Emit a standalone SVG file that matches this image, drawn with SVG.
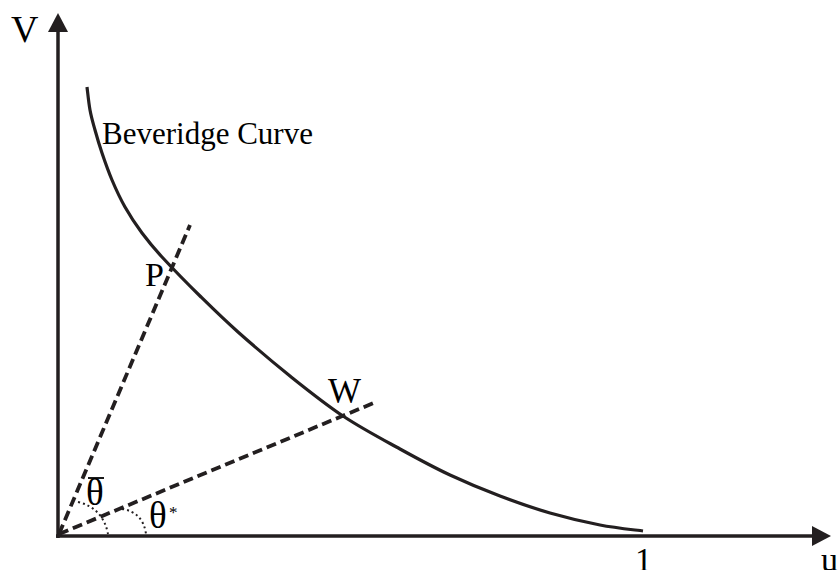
<svg xmlns="http://www.w3.org/2000/svg" width="838" height="570" viewBox="0 0 838 570">
<style>
.t{font-family:"Liberation Serif","Times New Roman",serif;fill:#000}
.ax{stroke:#231f20;stroke-width:3.5;fill:none}
.dash{stroke:#231f20;stroke-width:3.8;fill:none;stroke-dasharray:10 5}
.dot{stroke:#231f20;stroke-width:2;fill:none;stroke-dasharray:2 3}
</style>
<rect width="838" height="570" fill="#fff"/>
<g id="axes">
<line class="ax" x1="58" y1="538" x2="58" y2="28"/>
<polygon points="58,13 48,32 68,32" fill="#231f20"/>
<line class="ax" x1="56" y1="536" x2="815" y2="536"/>
<polygon points="831,536 812,526 812,546" fill="#231f20"/>
</g>
<g id="curve">
<path d="M87,87 C87.5,90.8 88.7,102.8 90,110 C91.3,117.2 93,122.8 95,130 C97,137.2 99.2,144.7 102,153 C104.8,161.3 108.2,171 112,180 C115.8,189 120,198.2 125,207 C130,215.8 135.8,224.7 142,233 C148.2,241.3 152.3,246.5 162,257 C171.7,267.5 187.3,283.5 200,296 C212.7,308.5 223,318.7 238,332 C253,345.3 272.5,362 290,376 C307.5,390 324.7,403.8 343,416 C361.3,428.2 382.2,439.2 400,449 C417.8,458.8 433.3,467.2 450,475 C466.7,482.8 483.3,489.7 500,496 C516.7,502.3 533.3,508.2 550,513 C566.7,517.8 584.5,522 600,525 C615.5,528 635.8,530 643,531" stroke="#231f20" stroke-width="3.2" fill="none"/>
</g>
<g id="connectors">
<line class="dash" x1="59" y1="534" x2="190" y2="225"/>
<line class="dash" x1="59" y1="534" x2="376" y2="402"/>
<path class="dot" d="M78,502 Q103,508 108,534"/>
<path class="dot" d="M122,509 Q143,512 146,534"/>
</g>
<g id="labels">
<text class="t" x="11" y="42" font-size="38">V</text>
<text class="t" x="102" y="144" font-size="31">Beveridge Curve</text>
<text class="t" x="145" y="286" font-size="34">P</text>
<text class="t" x="328" y="403" font-size="35">W</text>
<text class="t" x="635" y="571" font-size="34">1</text>
<text class="t" x="821" y="571" font-size="34">u</text>
<text class="t" x="86" y="505" font-size="37">θ</text>
<line x1="88" y1="478" x2="104" y2="478" stroke="#000" stroke-width="1.8"/>
<text class="t" x="149" y="528" font-size="37">θ</text>
<text class="t" x="169" y="518" font-size="17">*</text>
</g>
</svg>
